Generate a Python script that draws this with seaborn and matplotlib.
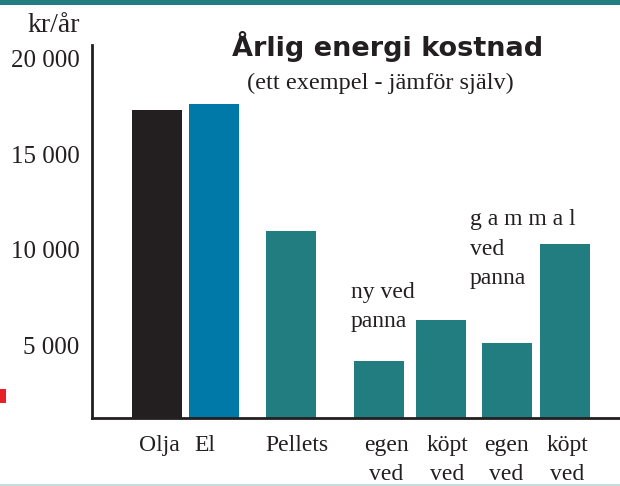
import matplotlib
matplotlib.use("Agg")
import matplotlib.pyplot as plt
import seaborn as sns
import pandas as pd
from matplotlib.patches import Rectangle

# data (kr/år)
categories = ["Olja", "El", "Pellets", "ny egen", "ny köpt", "gammal egen", "gammal köpt"]
tick_labels = ["Olja", "El", "Pellets", "egen\nved", "köpt\nved", "egen\nved", "köpt\nved"]
costs = [17300, 17600, 11000, 4200, 6300, 5100, 10300]

# layout: bar centres and label centres in pixel-like units along x
positions = [157, 214, 291, 379, 441, 507, 565]
label_positions = [159, 205, 297, 386, 447, 506, 567]
bar_colors = ["#231f20", "#0079a8", "#217d7f", "#217d7f", "#217d7f", "#217d7f", "#217d7f"]

df = pd.DataFrame({"category": categories, "pos": positions, "cost": costs})

sns.set_style("white")
plt.rcParams["font.family"] = ["Liberation Serif", "DejaVu Serif"]

W, H = 620, 486
fig = plt.figure(figsize=(W / 100, H / 100), dpi=100)
ax = fig.add_axes([92 / W, (H - 418) / H, (620 - 92) / W, (418 - 45) / H])

sns.barplot(data=df, x="pos", y="cost", hue="category", palette=bar_colors,
            native_scale=True, width=50 / 57, legend=False, saturation=1,
            linewidth=0, ax=ax)

ax.set_xlim(92, 620)
ax.set_ylim(1200, 20700)
ax.set_xticks(label_positions, tick_labels)
ax.set_yticks([5000, 10000, 15000, 20000], ["5 000", "10 000", "15 000", "20 000"])
ax.tick_params(axis="both", length=0, labelsize=18, colors="#231f20")
ax.tick_params(axis="x", labelsize=17, pad=12)
ax.tick_params(axis="y", pad=9)
for lab in ax.get_xticklabels():
    lab.set_linespacing(1.55)
    lab.set_verticalalignment("top")
ax.set_xlabel("")
ax.set_ylabel("")

for side in ["top", "right"]:
    ax.spines[side].set_visible(False)
for side in ["left", "bottom"]:
    ax.spines[side].set_color("#231f20")
    ax.spines[side].set_linewidth(2)

# texts
fig.text(54 / W, 1 - 26 / H, "kr/år", ha="center", va="center", fontsize=20, color="#231f20")
fig.text(388 / W, 1 - 46 / H, "Årlig energi kostnad", ha="center", va="center",
         fontsize=19.5, fontweight="heavy", family=["DejaVu Sans"], color="#231f20")
fig.text(380 / W, 1 - 83 / H, "(ett exempel - jämför själv)", ha="center", va="center",
         fontsize=17.5, color="#231f20")
fig.text(351 / W, 1 - 307 / H, "ny ved\npanna", ha="left", va="center",
         fontsize=17, linespacing=1.5, color="#231f20")
fig.text(470 / W, 1 - 249 / H, "g a m m a l\nved\npanna", ha="left", va="center",
         fontsize=17, linespacing=1.55, color="#231f20")

# decorations: top band, red marker, faint bottom line
fig.add_artist(Rectangle((0, 1 - 5 / H), 1, 5 / H, transform=fig.transFigure,
                         color="#217d7f", lw=0))
fig.add_artist(Rectangle((0, 1 - 403 / H), 6 / W, 14 / H, transform=fig.transFigure,
                         color="#e8202a", lw=0))
fig.add_artist(Rectangle((0, 0), 1, 2 / H, transform=fig.transFigure,
                         color="#c5dcdc", lw=0))

fig.savefig("out.png", dpi=100)
